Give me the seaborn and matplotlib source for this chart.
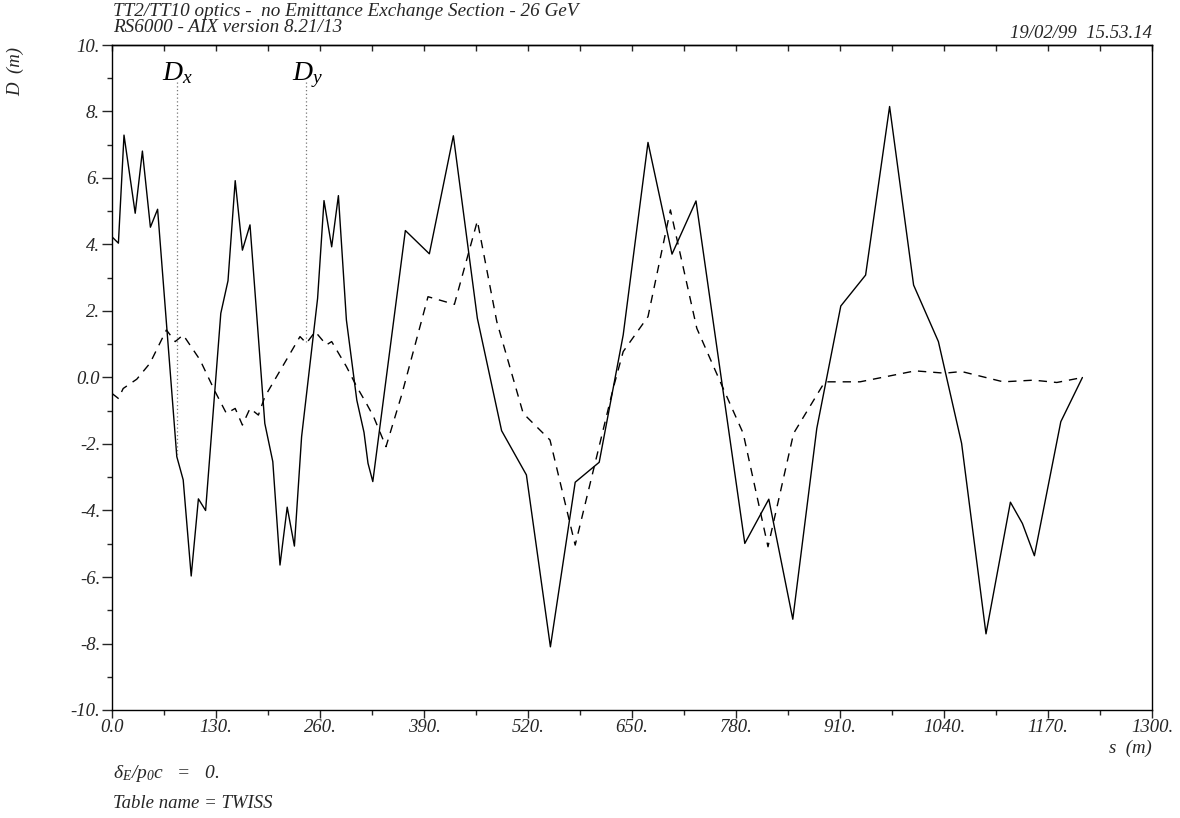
import matplotlib
matplotlib.use("Agg")
import matplotlib.pyplot as plt
from matplotlib.ticker import MultipleLocator
import numpy as np
import pandas as pd
import seaborn as sns

# ---------------- data ----------------
dx_s = [0, 8, 15, 29, 38, 48, 57, 81, 89, 99, 108, 117, 136, 145, 154, 163, 172.5,
        191, 201, 210, 219, 228, 237, 257, 265, 274.6, 283, 293, 306, 315, 320, 326,
        366.7, 396.7, 426.7, 456.7, 487, 518, 548, 579, 609, 639, 670, 700, 730,
        791, 821, 851, 881, 911, 942, 972, 1002, 1033, 1062, 1092.5, 1123, 1138,
        1153, 1186, 1213]
dx_v = [4.23, 4.04, 7.29, 4.94, 6.81, 4.52, 5.06, -2.38, -3.08, -5.97, -3.65, -4.0,
        1.93, 2.91, 5.92, 3.83, 4.59, -1.38, -2.53, -5.64, -3.9, -5.07, -1.78, 2.38,
        5.32, 3.93, 5.47, 1.73, -0.68, -1.65, -2.58, -3.13, 4.42, 3.72, 7.27, 1.78,
        -1.6, -2.93, -8.1, -3.15, -2.55, 1.28, 7.07, 3.71, 5.31, -4.99, -3.66, -7.27,
        -1.53, 2.15, 3.08, 8.15, 2.78, 1.08, -1.98, -7.71, -3.75, -4.39, -5.36,
        -1.33, 0.0]

dy_s = [0, 8, 14, 31, 47.5, 68, 79, 89, 110, 129, 143, 154, 163, 172.5, 183, 191,
        235, 243, 254, 268, 274.6, 293, 306, 318, 327, 342.5, 362, 395, 428, 456.7,
        481, 514, 547.5, 579, 627, 639, 670, 698, 731, 764, 789, 820, 852, 891, 935,
        1004, 1041, 1062, 1114, 1152, 1181, 1213]
dy_v = [-0.48, -0.63, -0.33, -0.05, 0.43, 1.43, 1.08, 1.28, 0.53, -0.43, -1.08,
        -0.93, -1.43, -0.93, -1.13, -0.58, 1.23, 1.03, 1.38, 0.98, 1.08, 0.33, -0.28,
        -0.78, -1.18, -2.08, -0.53, 2.43, 2.2, 4.71, 1.68, -1.08, -1.88, -5.04, -0.28,
        0.78, 1.83, 5.04, 1.48, -0.33, -1.68, -5.09, -1.68, -0.13, -0.13, 0.2, 0.13,
        0.18, -0.13, -0.08, -0.15, 0.0]

marker_s = [81, 243]
marker_names = ["x", "y"]

x_ticks = [0, 130, 260, 390, 520, 650, 780, 910, 1040, 1170, 1300]
x_tick_labels = ["0.0", "130.", "260.", "390.", "520.", "650.", "780.", "910.",
                 "1040.", "1170.", "1300."]
y_ticks = [-10, -8, -6, -4, -2, 0, 2, 4, 6, 8, 10]
y_tick_labels = ["-10.", "-8.", "-6.", "-4.", "-2.", "0.0", "2.", "4.", "6.", "8.", "10."]

title1 = "TT2/TT10 optics -  no Emittance Exchange Section - 26 GeV"
title2 = "RS6000 - AIX version 8.21/13"
date_str = "19/02/99  15.53.14"

# ---------------- style ----------------
sns.set_style("white")
plt.rcParams["font.family"] = ["Liberation Serif", "DejaVu Serif"]
plt.rcParams["font.style"] = "italic"
plt.rcParams["mathtext.fontset"] = "custom"
plt.rcParams["mathtext.rm"] = "Liberation Serif"
plt.rcParams["mathtext.it"] = "Liberation Serif:italic"
plt.rcParams["axes.edgecolor"] = "black"
plt.rcParams["axes.linewidth"] = 1.0

W, H = 1180, 818
fig = plt.figure(figsize=(W / 100, H / 100), dpi=100)
ax = fig.add_axes([112 / W, 1 - 710 / H, 1040 / W, 665 / H])

df_x = pd.DataFrame({"s": dx_s, "D": dx_v})
df_y = pd.DataFrame({"s": dy_s, "D": dy_v})

sns.lineplot(data=df_x, x="s", y="D", ax=ax, color="black", lw=1.0,
             estimator=None, sort=False)
sns.lineplot(data=df_y, x="s", y="D", ax=ax, color="black", lw=1.0,
             estimator=None, sort=False)
ax.lines[1].set_linestyle((0, (6, 5)))

ax.set_xlim(0, 1300)
ax.set_ylim(-10, 10)
ax.set_xlabel("")
ax.set_ylabel("")

ax.set_xticks(x_ticks, x_tick_labels)
ax.set_yticks(y_ticks, y_tick_labels)
ax.xaxis.set_minor_locator(MultipleLocator(65))
ax.yaxis.set_minor_locator(MultipleLocator(1))
ax.tick_params(axis="x", which="major", direction="out", length=6, width=1,
               pad=0.5, labelsize=13.5, bottom=True, top=False)
ax.tick_params(axis="x", which="minor", direction="out", length=3.5, width=1,
               bottom=True, top=False)
ax.tick_params(axis="y", which="major", direction="out", length=7, width=1,
               pad=1.5, labelsize=13.5, left=True, right=False)
ax.tick_params(axis="y", which="minor", direction="out", length=3.5, width=1,
               left=True, right=False)
for lab in ax.get_xticklabels() + ax.get_yticklabels():
    lab.set_fontstyle("italic")

for sp in ax.spines.values():
    sp.set_visible(True)
    sp.set_color("black")
    sp.set_linewidth(1.0)

# top ticks pointing inward
sec = ax.secondary_xaxis("top")
sec.set_xticks(x_ticks, [""] * len(x_ticks))
sec.xaxis.set_minor_locator(MultipleLocator(65))
sec.tick_params(axis="x", which="both", direction="in", length=4, width=1)

# D_x / D_y markers
for s0, nm, xs, ys in [(marker_s[0], marker_names[0], dx_s, dx_v),
                       (marker_s[1], marker_names[1], dy_s, dy_v)]:
    yend = float(np.interp(s0, xs, ys))
    ax.plot([s0, s0], [8.9, yend], color="#777777", lw=0.9, ls=(0, (1, 2)))
    ax.text(s0 - 18.5, 8.95, r"$D_{%s}$" % nm, fontsize=20, color="black",
            ha="left", va="baseline")

# texts
fig.text(113 / W, 1 - 11 / H, title1, fontsize=13.8, ha="left", va="center")
fig.text(113 / W, 1 - 27 / H, title2, fontsize=13.8, ha="left", va="center")
fig.text(1152 / W, 1 - 33 / H, date_str, fontsize=13.5, ha="right", va="center")
fig.text(16 / W, 1 - 72 / H, "D  (m)", fontsize=13.5, rotation=90,
         ha="center", va="center")
fig.text(1152 / W, 1 - 748 / H, "s  (m)", fontsize=13.5, ha="right", va="center")
fig.text(113 / W, 1 - 773 / H,
         r"$\mathrm{\delta}_{\mathit{E}}/\mathit{p}_{\mathit{0}}\mathit{c}$   =   0.",
         fontsize=14, ha="left", va="center")
fig.text(113 / W, 1 - 804 / H, "Table name = TWISS", fontsize=13.5,
         ha="left", va="center")

fig.savefig("out.png", dpi=100)
